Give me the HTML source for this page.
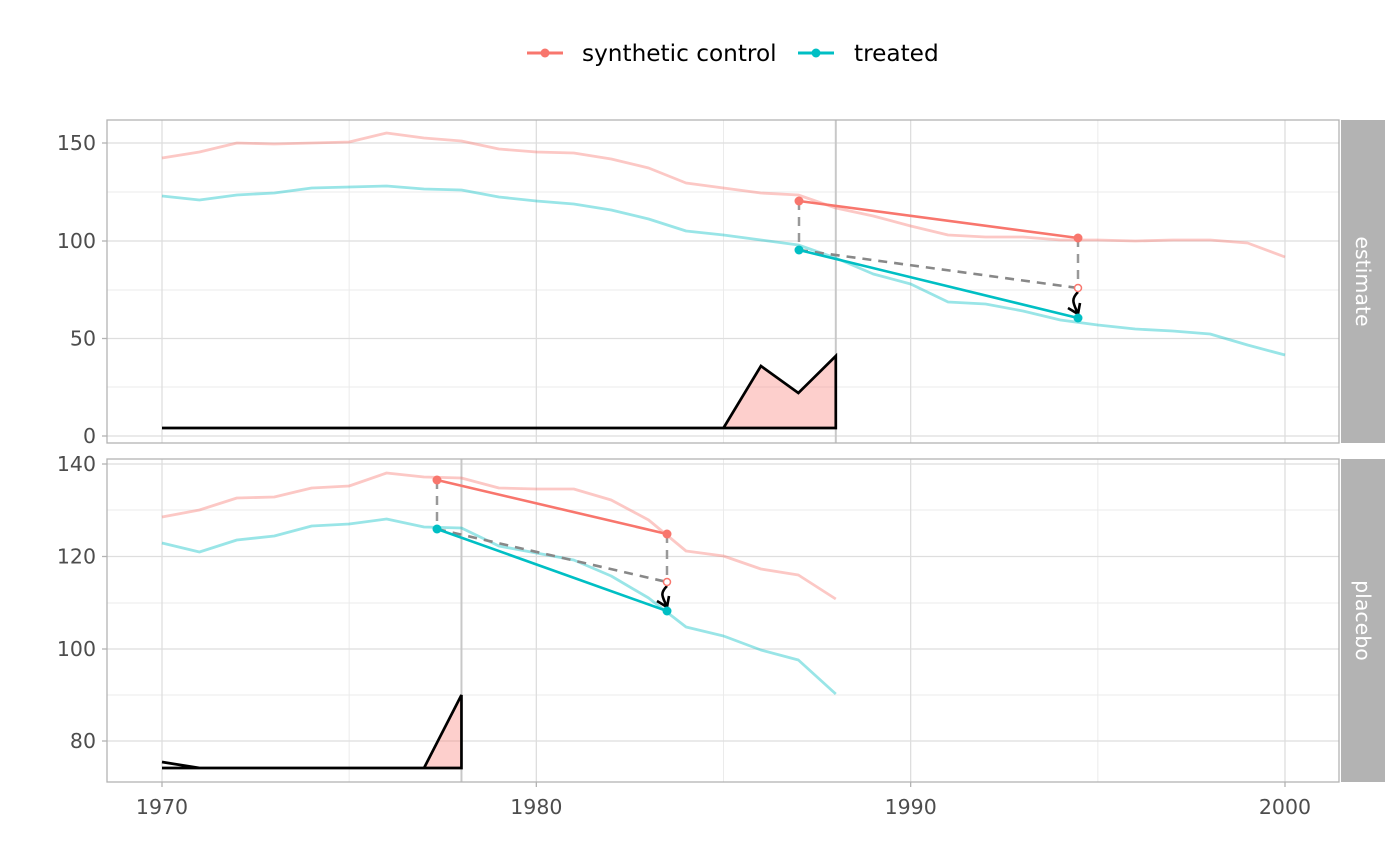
<!DOCTYPE html><html><head><meta charset="utf-8"><style>body{margin:0;background:#fff}svg{display:block;font-family:"DejaVu Sans","Liberation Sans",sans-serif}</style></head><body>
<svg id="s" width="1400" height="866" xmlns="http://www.w3.org/2000/svg">
<g font-size="23.2" fill="#000">
<line x1="527" y1="53" x2="563" y2="53" stroke="#F8766D" stroke-width="3"/><circle cx="545" cy="53" r="4.5" fill="#F8766D"/>
<text x="582" y="61">synthetic control</text>
<line x1="798" y1="53" x2="834" y2="53" stroke="#00BFC4" stroke-width="3"/><circle cx="816" cy="53" r="4.5" fill="#00BFC4"/>
<text x="854" y="61">treated</text>
</g>
</svg>
<script>
const s=document.getElementById('s'),NS='http://www.w3.org/2000/svg';
function el(t,a,txt){const e=document.createElementNS(NS,t);for(const k in a)e.setAttribute(k,a[k]);if(txt)e.textContent=txt;s.appendChild(e);return e}
const X=y=>162+37.433*(y-1970);
function panel(y0,y1,hmaj,hmin,vline,label,labs){
 el('rect',{x:107,y:y0,width:1232,height:y1-y0,fill:'#fff'});
 hmin.forEach(y=>el('line',{x1:107,x2:1339,y1:y,y2:y,stroke:'#ebebeb','stroke-width':1}));
 [1975,1985,1995].forEach(v=>el('line',{x1:X(v),x2:X(v),y1:y0,y2:y1,stroke:'#ebebeb','stroke-width':1}));
 hmaj.forEach(y=>el('line',{x1:107,x2:1339,y1:y,y2:y,stroke:'#dedede','stroke-width':1.3}));
 [1970,1980,1990,2000].forEach(v=>el('line',{x1:X(v),x2:X(v),y1:y0,y2:y1,stroke:'#dedede','stroke-width':1.3}));
 el('line',{x1:X(vline),x2:X(vline),y1:y0,y2:y1,stroke:'#c8c8c8','stroke-width':2});
 hmaj.forEach((y,i)=>{el('line',{x1:102,x2:107,y1:y,y2:y,stroke:'#b3b3b3','stroke-width':1.3});el('text',{x:96,y:y+7,'text-anchor':'end','font-size':20.5,fill:'#4d4d4d'},labs[i])});
 el('rect',{x:107,y:y0,width:1232,height:y1-y0,fill:'none',stroke:'#b3b3b3','stroke-width':1.3});
 el('rect',{x:1341,y:y0,width:44,height:y1-y0,fill:'#b3b3b3'});
 const c=(y0+y1)/2;el('text',{x:1363,y:c,'font-size':20.5,fill:'#fff','text-anchor':'middle',transform:`rotate(90 1363 ${c})`,'dominant-baseline':'central'},label);
}
function pl(ys,st,w,op){el('polyline',{points:ys.map((y,i)=>X(1970+i)+','+y).join(' '),fill:'none',stroke:st,'stroke-width':w,opacity:op||1,'stroke-linejoin':'round'})}
function arrowSet(xa,xb,ra,rb,ta,tb,h){
 el('line',{x1:xa,x2:xa,y1:ra,y2:ta,stroke:'#999','stroke-width':2.5,'stroke-dasharray':'9,7'});
 el('line',{x1:xb,x2:xb,y1:rb,y2:h,stroke:'#999','stroke-width':2.5,'stroke-dasharray':'9,7'});
 el('line',{x1:xa,x2:xb,y1:ta,y2:h,stroke:'#888','stroke-width':2.6,'stroke-dasharray':'9,7'});
 el('line',{x1:xa,x2:xb,y1:ra,y2:rb,stroke:'#F8766D','stroke-width':2.6});
 el('line',{x1:xa,x2:xb,y1:ta,y2:tb,stroke:'#00BFC4','stroke-width':2.6});
 el('path',{d:`M${xb} ${h+4} C${xb-8} ${h+12} ${xb-4} ${tb-14} ${xb} ${tb-4} M${xb-10} ${tb-10} L${xb} ${tb-4} L${xb+2} ${tb-15}`,fill:'none',stroke:'#000','stroke-width':2.6});
 el('circle',{cx:xa,cy:ra,r:4.5,fill:'#F8766D'});el('circle',{cx:xb,cy:rb,r:4.5,fill:'#F8766D'});
 el('circle',{cx:xa,cy:ta,r:4.5,fill:'#00BFC4'});el('circle',{cx:xb,cy:tb,r:4.5,fill:'#00BFC4'});
 el('circle',{cx:xb,cy:h,r:3.5,fill:'#fff',stroke:'#F8766D','stroke-width':1.5});
}
panel(120,443,[436,338.5,241,143],[387,290,192],1988,'estimate',['0','50','100','150']);
pl([158,152,143,144,143,142,133,138,141,149,152,153,159,168,183,188,193,195,208,216,226,235,237,237,240,240,241,240,240,243,257],'#F8766D',2.8,.4);
pl([196,200,195,193,188,187,186,189,190,197,201,204,210,219,231,235,240,245,258,274,284,302,304,311,320,325,329,331,334,345,355],'#00BFC4',2.8,.4);
el('polygon',{points:`${X(1985)},428 ${X(1986)},366 ${X(1987)},393 ${X(1988)},356 ${X(1988)},428`,fill:'#F8766D',opacity:.35});
el('polyline',{points:`${X(1970)},428 ${X(1985)},428 ${X(1986)},366 ${X(1987)},393 ${X(1988)},356 ${X(1988)},428 ${X(1970)},428`,fill:'none',stroke:'#000','stroke-width':2.7});
arrowSet(799,1078,201,238,250,318,288);
panel(459,782,[741,649,556.5,464],[695,603,510],1978,'placebo',['80','100','120','140']);
pl([517,510,498,497,488,486,473,477,478,488,489,489,500,520,551,556,569,575,599],'#F8766D',2.8,.4);
pl([543,552,540,536,526,524,519,527,528,546,553,560,576,598,627,636,650,660,694],'#00BFC4',2.8,.4);
el('polygon',{points:`${X(1977)},768 ${X(1978)},695 ${X(1978)},768`,fill:'#F8766D',opacity:.35});
el('polyline',{points:`${X(1970)},762 ${X(1971)},768 ${X(1977)},768 ${X(1978)},695 ${X(1978)},768 ${X(1970)},768`,fill:'none',stroke:'#000','stroke-width':2.7});
arrowSet(437,667,480,534,529,611,582);
[1970,1980,1990,2000].forEach(v=>{el('line',{x1:X(v),x2:X(v),y1:782,y2:787,stroke:'#b3b3b3','stroke-width':1.3});el('text',{x:X(v),y:814,'text-anchor':'middle','font-size':20.5,fill:'#4d4d4d'},String(v))});
</script></body></html>
